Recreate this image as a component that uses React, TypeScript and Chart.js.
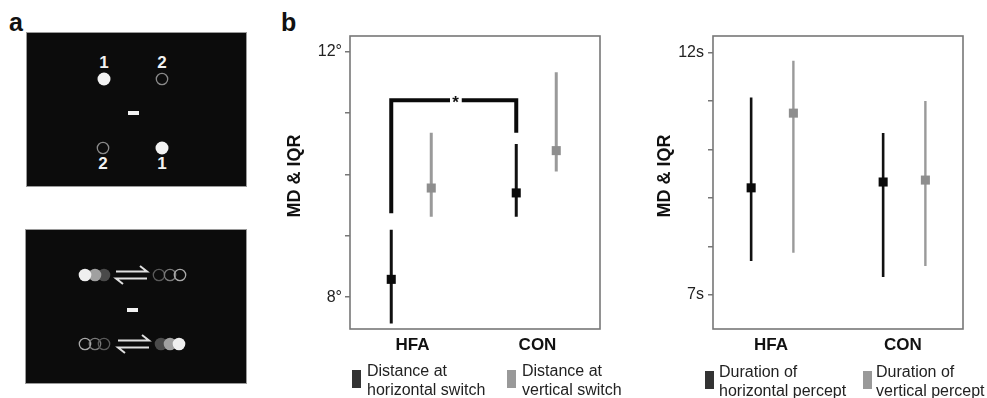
import React, { useEffect, useRef } from 'react';
import { Chart, registerables } from 'chart.js';
Chart.register(...registerables);

// ---------- data ----------
const groups = ['HFA', 'CON'];

// Panel b, left: distance at switch (degrees)
const distHorizMedian = [8.29, 9.7];
const distHorizQ1 = [7.57, 9.31];
const distHorizQ3 = [9.1, 10.5];
const distVertMedian = [9.78, 10.39];
const distVertQ1 = [9.31, 10.05];
const distVertQ3 = [10.68, 11.67];
const distTicks = [8, 9, 10, 11, 12];
const distTickLabels: Record<number, string> = { 8: '8°', 12: '12°' };

// Panel b, right: duration of percept (seconds)
const durHorizMedian = [9.21, 9.33];
const durHorizQ1 = [7.7, 7.37];
const durHorizQ3 = [11.07, 10.34];
const durVertMedian = [10.75, 9.37];
const durVertQ1 = [7.87, 7.6];
const durVertQ3 = [11.83, 11.0];
const durTicks = [7, 8, 9, 10, 11, 12];
const durTickLabels: Record<number, string> = { 7: '7s', 12: '12s' };

// significance bracket (HFA vs CON, horizontal switch distance)
const sigLeftFoot = 9.37;
const sigTop = 11.21;
const sigRightFoot = 10.68;
const sigLabel = '*';

const FONT = '"Liberation Sans", Arial, Helvetica, sans-serif';

type PanelSpec = {
  hMed: number[]; hQ1: number[]; hQ3: number[];
  vMed: number[]; vQ1: number[]; vQ3: number[];
  ticks: number[]; tickLabels: Record<number, string>;
  yMin: number; yMax: number;
  xMin: number; xMax: number;
  offH: number; offV: number;
  lineH: number; lineV: number;
  title: string; titleX: number; titleY: number;
  bracket: boolean;
  tickPad: number;
};

const framePlugin = {
  id: 'frame',
  beforeDatasetsDraw(chart: any) {
    const { ctx, chartArea: a } = chart;
    ctx.save();
    ctx.strokeStyle = '#777';
    ctx.lineWidth = 1.6;
    ctx.strokeRect(a.left, a.top, a.right - a.left, a.bottom - a.top);
    ctx.restore();
  },
  afterDraw(chart: any, _a: any, opts: any) {
    const { ctx } = chart;
    ctx.save();
    ctx.fillStyle = '#111';
    ctx.font = 'bold 18px ' + FONT;
    ctx.translate(opts.titleX, opts.titleY);
    ctx.rotate(-Math.PI / 2);
    ctx.textAlign = 'center';
    ctx.textBaseline = 'middle';
    ctx.fillText(opts.title, 0, 0);
    ctx.restore();
    if (opts.star) {
      const xs = chart.scales.x;
      const ys = chart.scales.y;
      ctx.save();
      ctx.fillStyle = '#111';
      ctx.font = 'bold 17px ' + FONT;
      ctx.textAlign = 'center';
      ctx.textBaseline = 'middle';
      ctx.fillText(opts.star.text, xs.getPixelForValue(opts.star.x), ys.getPixelForValue(opts.star.y) + 3);
      ctx.restore();
    }
  },
};

function whisker(q1: number[], q3: number[], off: number) {
  const d: any[] = [];
  q1.forEach((lo, i) => {
    const x = i + 1 + off;
    d.push({ x, y: lo }, { x, y: q3[i] }, { x: x + 0.001, y: null });
  });
  return d;
}

function medians(m: number[], off: number) {
  return m.map((v, i) => ({ x: i + 1 + off, y: v }));
}

function makeChart(canvas: HTMLCanvasElement, p: PanelSpec) {
  const datasets: any[] = [
    {
      type: 'scatter', data: medians(p.hMed, p.offH), pointStyle: 'rect', pointRadius: 6.4,
      backgroundColor: '#0a0a0a', borderWidth: 0, pointBorderWidth: 0,
    },
    {
      type: 'scatter', data: medians(p.vMed, p.offV), pointStyle: 'rect', pointRadius: 6.4,
      backgroundColor: '#8e8e8e', borderWidth: 0, pointBorderWidth: 0,
    },
    {
      type: 'line', data: whisker(p.hQ1, p.hQ3, p.offH), borderColor: '#111', borderWidth: p.lineH,
      pointRadius: 0, spanGaps: false, borderCapStyle: 'butt',
    },
    {
      type: 'line', data: whisker(p.vQ1, p.vQ3, p.offV), borderColor: '#9a9a9a', borderWidth: p.lineV,
      pointRadius: 0, spanGaps: false, borderCapStyle: 'butt',
    },
  ];
  let star: any = null;
  if (p.bracket) {
    const xl = 1 + p.offH;
    const xr = 2 + p.offH;
    datasets.push({
      type: 'line',
      data: [
        { x: xl, y: sigLeftFoot }, { x: xl, y: sigTop }, { x: 1.3, y: sigTop },
        { x: 1.345, y: null },
        { x: 1.394, y: sigTop }, { x: xr, y: sigTop }, { x: xr, y: sigRightFoot },
      ],
      borderColor: '#0a0a0a', borderWidth: 4, pointRadius: 0, spanGaps: false,
      borderJoinStyle: 'miter', borderCapStyle: 'butt',
    });
    star = { text: sigLabel, x: 1.345, y: sigTop };
  }
  return new Chart(canvas, {
    type: 'scatter',
    data: { datasets },
    plugins: [framePlugin as any],
    options: {
      animation: false,
      responsive: false,
      maintainAspectRatio: false,
      layout: { padding: { left: 0, right: 12, top: 36, bottom: 39 } },
      plugins: {
        legend: { display: false },
        tooltip: { enabled: false },
        frame: { title: p.title, titleX: p.titleX, titleY: p.titleY, star },
      } as any,
      scales: {
        x: {
          type: 'linear', min: p.xMin, max: p.xMax,
          afterBuildTicks: (s: any) => { s.ticks = groups.map((_, i) => ({ value: i + 1 })); },
          afterFit: (s: any) => { s.height = 30; },
          grid: { display: false, drawTicks: false },
          border: { display: false },
          ticks: {
            padding: 6, color: '#111', font: { family: FONT, size: 17, weight: 'bold' },
            callback: (v: any) => groups[Math.round(v) - 1] ?? '',
          },
        },
        y: {
          type: 'linear', min: p.yMin, max: p.yMax,
          afterBuildTicks: (s: any) => { s.ticks = p.ticks.map((v) => ({ value: v })); },
          afterFit: (s: any) => { s.width = 88; },
          grid: { display: true, drawOnChartArea: false, drawTicks: true, tickLength: 5, color: '#777', lineWidth: 1.5 },
          border: { display: false },
          ticks: {
            padding: p.tickPad, color: '#222', font: { family: FONT, size: 16 },
            callback: (v: any) => p.tickLabels[v] ?? '',
          },
        },
      },
    } as any,
  });
}

function ChartCanvas({ spec, left }: { spec: PanelSpec; left: number }) {
  const ref = useRef<HTMLCanvasElement>(null);
  useEffect(() => {
    if (!ref.current) return;
    const c = makeChart(ref.current, spec);
    return () => c.destroy();
  }, []);
  return (
    <canvas
      ref={ref}
      width={350}
      height={398}
      style={{ position: 'absolute', left, top: 0, width: 350, height: 398 }}
    />
  );
}

function LegendItem({ x, y, color, lines, textX }: { x: number; y: number; color: string; lines: string[]; textX: number }) {
  return (
    <>
      <div style={{ position: 'absolute', left: x, top: y + 9, width: 9, height: 18, background: color }} />
      <div style={{ position: 'absolute', left: textX, top: y, font: `16px ${FONT}`, lineHeight: '19px', color: '#222', whiteSpace: 'nowrap' }}>
        {lines[0]}<br />{lines[1]}
      </div>
    </>
  );
}

function PanelA() {
  const white = '#f2f2f2';
  return (
    <svg width={987} height={398} style={{ position: 'absolute', left: 0, top: 0 }}>
      <text x={9} y={31} fontFamily={FONT} fontWeight="bold" fontSize={25} fill="#111">a</text>
      <text x={281} y={31} fontFamily={FONT} fontWeight="bold" fontSize={25} fill="#111">b</text>
      {/* top stimulus frame */}
      <rect x={26.5} y={32.5} width={220} height={154} fill="#0c0c0c" stroke="#9a9a9a" strokeWidth={1} />
      <text x={104} y={68} textAnchor="middle" fontFamily={FONT} fontWeight="bold" fontSize={17} fill={white}>1</text>
      <text x={162} y={68} textAnchor="middle" fontFamily={FONT} fontWeight="bold" fontSize={17} fill={white}>2</text>
      <circle cx={104} cy={79} r={6.5} fill={white} />
      <circle cx={162} cy={79} r={5.7} fill="none" stroke="#8a8a8a" strokeWidth={1.3} />
      <rect x={128} y={111} width={11} height={4} fill={white} />
      <circle cx={103} cy={148} r={5.7} fill="none" stroke="#8a8a8a" strokeWidth={1.3} />
      <circle cx={162} cy={148} r={6.5} fill={white} />
      <text x={103} y={169} textAnchor="middle" fontFamily={FONT} fontWeight="bold" fontSize={17} fill={white}>2</text>
      <text x={162} y={169} textAnchor="middle" fontFamily={FONT} fontWeight="bold" fontSize={17} fill={white}>1</text>
      {/* bottom stimulus frame */}
      <rect x={25.5} y={229.5} width={221} height={154} fill="#0c0c0c" stroke="#9a9a9a" strokeWidth={1} />
      {/* row 1 */}
      <circle cx={104} cy={275} r={6.3} fill="#4a4a4a" />
      <circle cx={95} cy={275} r={6.3} fill="#a0a0a0" />
      <circle cx={85} cy={275} r={6.3} fill="#efefef" />
      <path d="M116 271.5 L147 271.5 L140 266 M147 278.5 L116 278.5 L123 284" stroke="#e0e0e0" strokeWidth={2} fill="none" />
      <circle cx={159} cy={275} r={5.7} fill="none" stroke="#5a5a5a" strokeWidth={1.3} />
      <circle cx={170} cy={275} r={5.7} fill="none" stroke="#7a7a7a" strokeWidth={1.3} />
      <circle cx={180} cy={275} r={5.7} fill="none" stroke="#aaaaaa" strokeWidth={1.3} />
      <rect x={127} y={308} width={11} height={4} fill={white} />
      {/* row 2 */}
      <circle cx={85} cy={344} r={5.7} fill="none" stroke="#aaaaaa" strokeWidth={1.3} />
      <circle cx={95} cy={344} r={5.7} fill="none" stroke="#7a7a7a" strokeWidth={1.3} />
      <circle cx={104} cy={344} r={5.7} fill="none" stroke="#5a5a5a" strokeWidth={1.3} />
      <path d="M118 340.5 L149 340.5 L142 335 M149 347.5 L118 347.5 L125 353" stroke="#e0e0e0" strokeWidth={2} fill="none" />
      <circle cx={161} cy={344} r={6.3} fill="#4a4a4a" />
      <circle cx={170} cy={344} r={6.3} fill="#a0a0a0" />
      <circle cx={179} cy={344} r={6.3} fill="#efefef" />
    </svg>
  );
}

export default function App() {
  const leftSpec: PanelSpec = {
    hMed: distHorizMedian, hQ1: distHorizQ1, hQ3: distHorizQ3,
    vMed: distVertMedian, vQ1: distVertQ1, vQ3: distVertQ3,
    ticks: distTicks, tickLabels: distTickLabels,
    yMin: 7.48, yMax: 12.26, xMin: 0.5, xMax: 2.5,
    offH: -0.17, offV: 0.15, lineH: 3, lineV: 3,
    title: 'MD & IQR', titleX: 295 - 262, titleY: 176,
    bracket: true, tickPad: 3,
  };
  const rightSpec: PanelSpec = {
    hMed: durHorizMedian, hQ1: durHorizQ1, hQ3: durHorizQ3,
    vMed: durVertMedian, vQ1: durVertQ1, vQ3: durVertQ3,
    ticks: durTicks, tickLabels: durTickLabels,
    yMin: 6.3, yMax: 12.34, xMin: 0.561, xMax: 2.455,
    offH: -0.15, offV: 0.17, lineH: 2.6, lineV: 2.4,
    title: 'MD & IQR', titleX: 665 - 625, titleY: 176,
    bracket: false, tickPad: 4,
  };
  return (
    <div style={{ position: 'absolute', left: 0, top: 0, width: 987, height: 398, overflow: 'hidden', background: '#fff' }}>
      <PanelA />
      <ChartCanvas spec={leftSpec} left={262} />
      <ChartCanvas spec={rightSpec} left={625} />
      <LegendItem x={352} y={361} color="#333" textX={367} lines={['Distance at', 'horizontal switch']} />
      <LegendItem x={507} y={361} color="#999" textX={522} lines={['Distance at', 'vertical switch']} />
      <LegendItem x={705} y={362} color="#333" textX={719} lines={['Duration of', 'horizontal percept']} />
      <LegendItem x={863} y={362} color="#999" textX={876} lines={['Duration of', 'vertical percept']} />
    </div>
  );
}
